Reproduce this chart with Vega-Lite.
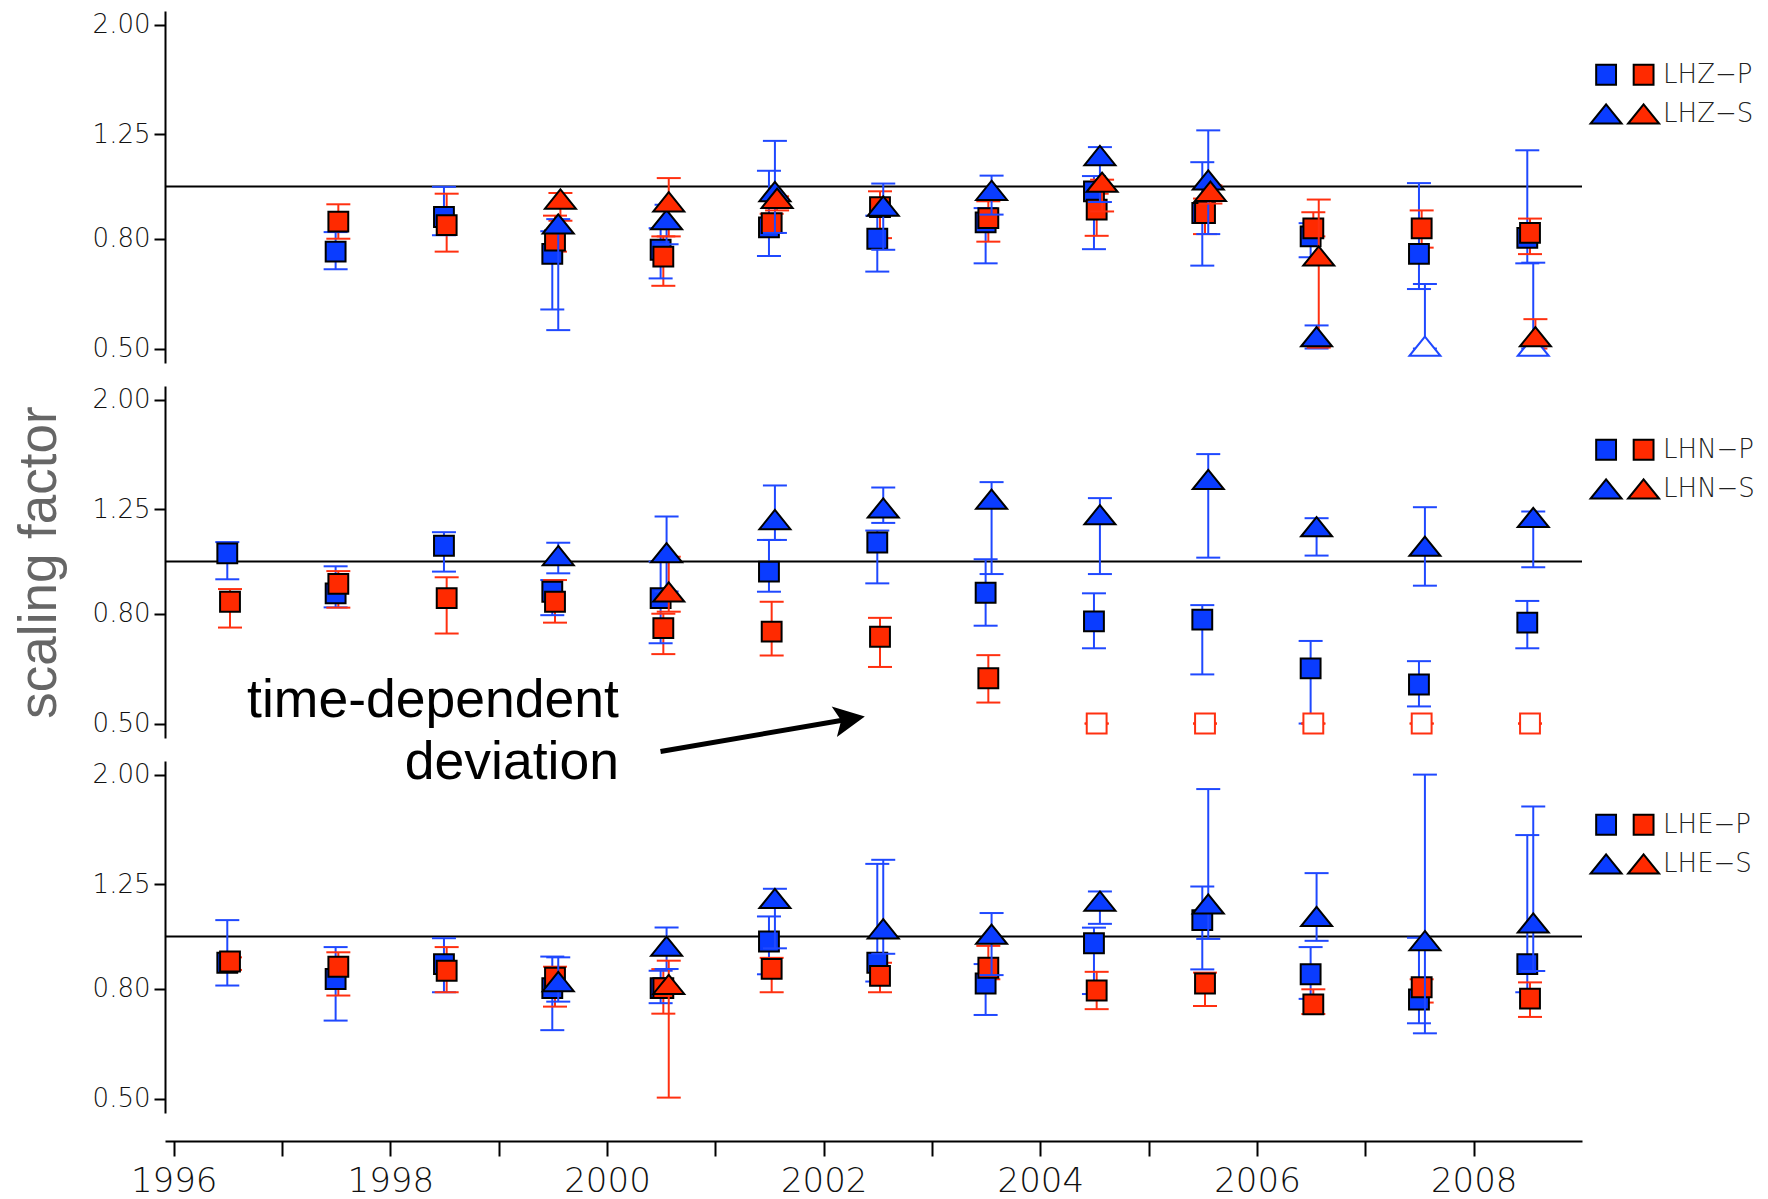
{
  "$schema": "https://vega.github.io/schema/vega-lite/v6.json",
  "background": "white",
  "padding": {"left": 13, "top": 11, "right": 5, "bottom": 2},
  "autosize": {"type": "pad"},
  "config": {
    "view": {"stroke": null},
    "axis": {
      "domainColor": "black", "domainWidth": 2, "tickColor": "black", "tickWidth": 2,
      "tickSize": 11, "labelPadding": 4, "labelFont": "DejaVu Sans", "labelFontSize": 26,
      "labelFontWeight": 200, "labelColor": "#111", "grid": false
    },
    "legend": {
      "padding": 0, "symbolSize": 961, "symbolStrokeColor": "black", "symbolStrokeWidth": 2,
      "labelFont": "DejaVu Sans", "labelFontSize": 26, "labelFontWeight": 200, "labelColor": "#222",
      "labelOffset": 3, "columnPadding": -1.5, "rowPadding": 8.5
    }
  },
  "datasets": {
    "pts": [
      {"c":"LHZ","s":"BP","t":1997.495,"v":0.757,"lo":0.702,"hi":0.823},
      {"c":"LHZ","s":"RP","t":1997.52,"v":0.861,"lo":0.80,"hi":0.927},
      {"c":"LHZ","s":"BP","t":1998.495,"v":0.878,"lo":0.812,"hi":0.999},
      {"c":"LHZ","s":"RP","t":1998.52,"v":0.848,"lo":0.757,"hi":0.97},
      {"c":"LHZ","s":"BP","t":1999.495,"v":0.75,"lo":0.591,"hi":0.826},
      {"c":"LHZ","s":"RP","t":1999.52,"v":0.794,"lo":0.757,"hi":0.883},
      {"c":"LHZ","s":"BS","t":1999.55,"v":0.852,"lo":0.541,"hi":0.87},
      {"c":"LHZ","s":"RS","t":1999.57,"v":0.948,"lo":0.864,"hi":0.973},
      {"c":"LHZ","s":"BP","t":2000.495,"v":0.763,"lo":0.675,"hi":0.837},
      {"c":"LHZ","s":"RP","t":2000.52,"v":0.741,"lo":0.654,"hi":0.808},
      {"c":"LHZ","s":"BS","t":2000.55,"v":0.868,"lo":0.781,"hi":0.925},
      {"c":"LHZ","s":"RS","t":2000.57,"v":0.937,"lo":0.808,"hi":1.037},
      {"c":"LHZ","s":"BP","t":2001.495,"v":0.84,"lo":0.743,"hi":1.07},
      {"c":"LHZ","s":"RP","t":2001.52,"v":0.855,"lo":0.82,"hi":0.89},
      {"c":"LHZ","s":"BS","t":2001.55,"v":0.979,"lo":0.82,"hi":1.216},
      {"c":"LHZ","s":"RS","t":2001.57,"v":0.951,"lo":0.903,"hi":0.959},
      {"c":"LHZ","s":"BP","t":2002.495,"v":0.80,"lo":0.695,"hi":0.883},
      {"c":"LHZ","s":"RP","t":2002.52,"v":0.916,"lo":0.802,"hi":0.98},
      {"c":"LHZ","s":"BS","t":2002.55,"v":0.92,"lo":0.763,"hi":1.013},
      {"c":"LHZ","s":"BP","t":2003.495,"v":0.858,"lo":0.72,"hi":0.912},
      {"c":"LHZ","s":"RP","t":2003.52,"v":0.874,"lo":0.79,"hi":0.939},
      {"c":"LHZ","s":"BS","t":2003.55,"v":0.984,"lo":0.887,"hi":1.048},
      {"c":"LHZ","s":"BP","t":2004.495,"v":0.98,"lo":0.765,"hi":1.046},
      {"c":"LHZ","s":"RP","t":2004.52,"v":0.906,"lo":0.81,"hi":0.97},
      {"c":"LHZ","s":"BS","t":2004.55,"v":1.142,"lo":0.936,"hi":1.184},
      {"c":"LHZ","s":"RS","t":2004.57,"v":1.019,"lo":0.899,"hi":1.03},
      {"c":"LHZ","s":"BP","t":2005.495,"v":0.893,"lo":0.713,"hi":1.11},
      {"c":"LHZ","s":"RP","t":2005.52,"v":0.893,"lo":0.816,"hi":0.95},
      {"c":"LHZ","s":"BS","t":2005.55,"v":1.029,"lo":0.816,"hi":1.272},
      {"c":"LHZ","s":"RS","t":2005.57,"v":0.98,"lo":0.93,"hi":1.005},
      {"c":"LHZ","s":"BP","t":2006.495,"v":0.808,"lo":0.739,"hi":0.855},
      {"c":"LHZ","s":"RP","t":2006.52,"v":0.836,"lo":0.808,"hi":0.896},
      {"c":"LHZ","s":"BS","t":2006.55,"v":0.526,"lo":0.50,"hi":0.552},
      {"c":"LHZ","s":"RS","t":2006.57,"v":0.743,"lo":0.502,"hi":0.946},
      {"c":"LHZ","s":"BP","t":2007.495,"v":0.75,"lo":0.645,"hi":1.015},
      {"c":"LHZ","s":"RP","t":2007.52,"v":0.836,"lo":0.77,"hi":0.903},
      {"c":"LHZ","s":"BS","t":2007.55,"v":0.505,"lo":0.50,"hi":0.659,"low":true},
      {"c":"LHZ","s":"BP","t":2008.495,"v":0.803,"lo":0.72,"hi":1.168},
      {"c":"LHZ","s":"RP","t":2008.52,"v":0.82,"lo":0.749,"hi":0.872},
      {"c":"LHZ","s":"BS","t":2008.55,"v":0.505,"lo":0.50,"hi":0.722,"low":true},
      {"c":"LHZ","s":"RS","t":2008.57,"v":0.526,"lo":0.50,"hi":0.567},

      {"c":"LHN","s":"BP","t":1996.495,"v":1.036,"lo":0.927,"hi":1.087},
      {"c":"LHN","s":"RP","t":1996.52,"v":0.842,"lo":0.754,"hi":0.889},
      {"c":"LHN","s":"BP","t":1997.495,"v":0.873,"lo":0.822,"hi":0.98},
      {"c":"LHN","s":"RP","t":1997.52,"v":0.909,"lo":0.821,"hi":0.96},
      {"c":"LHN","s":"BP","t":1998.495,"v":1.07,"lo":0.958,"hi":1.134},
      {"c":"LHN","s":"RP","t":1998.52,"v":0.855,"lo":0.735,"hi":0.935},
      {"c":"LHN","s":"BP","t":1999.495,"v":0.879,"lo":0.795,"hi":0.924},
      {"c":"LHN","s":"RP","t":1999.52,"v":0.842,"lo":0.77,"hi":0.924},
      {"c":"LHN","s":"BS","t":1999.55,"v":1.026,"lo":0.951,"hi":1.084},
      {"c":"LHN","s":"BP","t":2000.495,"v":0.855,"lo":0.705,"hi":1.0},
      {"c":"LHN","s":"RP","t":2000.52,"v":0.752,"lo":0.673,"hi":0.80},
      {"c":"LHN","s":"BS","t":2000.55,"v":1.039,"lo":0.88,"hi":1.213},
      {"c":"LHN","s":"RS","t":2000.57,"v":0.878,"lo":0.807,"hi":1.021},
      {"c":"LHN","s":"BP","t":2001.495,"v":0.958,"lo":0.879,"hi":1.097},
      {"c":"LHN","s":"RP","t":2001.52,"v":0.741,"lo":0.669,"hi":0.842},
      {"c":"LHN","s":"BS","t":2001.55,"v":1.197,"lo":1.097,"hi":1.385},
      {"c":"LHN","s":"BP","t":2002.495,"v":1.085,"lo":0.911,"hi":1.142},
      {"c":"LHN","s":"RP","t":2002.52,"v":0.725,"lo":0.637,"hi":0.786},
      {"c":"LHN","s":"BS","t":2002.55,"v":1.258,"lo":1.18,"hi":1.373},
      {"c":"LHN","s":"BP","t":2003.495,"v":0.875,"lo":0.76,"hi":1.01},
      {"c":"LHN","s":"RP","t":2003.52,"v":0.607,"lo":0.547,"hi":0.67},
      {"c":"LHN","s":"BS","t":2003.55,"v":1.306,"lo":0.948,"hi":1.405},
      {"c":"LHN","s":"BP","t":2004.495,"v":0.774,"lo":0.69,"hi":0.873},
      {"c":"LHN","s":"RP","t":2004.52,"v":0.5,"lo":0.5,"hi":0.5,"low":true},
      {"c":"LHN","s":"BS","t":2004.55,"v":1.222,"lo":0.948,"hi":1.312},
      {"c":"LHN","s":"BP","t":2005.495,"v":0.78,"lo":0.617,"hi":0.83},
      {"c":"LHN","s":"RP","t":2005.52,"v":0.5,"lo":0.5,"hi":0.5,"low":true},
      {"c":"LHN","s":"BS","t":2005.55,"v":1.421,"lo":1.017,"hi":1.584},
      {"c":"LHN","s":"BP","t":2006.495,"v":0.633,"lo":0.5,"hi":0.712},
      {"c":"LHN","s":"RP","t":2006.52,"v":0.5,"lo":0.5,"hi":0.5,"low":true},
      {"c":"LHN","s":"BS","t":2006.55,"v":1.161,"lo":1.026,"hi":1.204},
      {"c":"LHN","s":"BP","t":2007.495,"v":0.591,"lo":0.538,"hi":0.653},
      {"c":"LHN","s":"RP","t":2007.52,"v":0.5,"lo":0.5,"hi":0.5,"low":true},
      {"c":"LHN","s":"BS","t":2007.55,"v":1.068,"lo":0.902,"hi":1.262},
      {"c":"LHN","s":"BP","t":2008.495,"v":0.77,"lo":0.69,"hi":0.845},
      {"c":"LHN","s":"RP","t":2008.52,"v":0.5,"lo":0.5,"hi":0.5,"low":true},
      {"c":"LHN","s":"BS","t":2008.55,"v":1.208,"lo":0.976,"hi":1.239},

      {"c":"LHE","s":"BP","t":1996.495,"v":0.894,"lo":0.811,"hi":1.073},
      {"c":"LHE","s":"RP","t":1996.52,"v":0.899,"lo":0.867,"hi":0.915},
      {"c":"LHE","s":"BP","t":1997.495,"v":0.834,"lo":0.698,"hi":0.956},
      {"c":"LHE","s":"RP","t":1997.52,"v":0.879,"lo":0.777,"hi":0.935},
      {"c":"LHE","s":"BP","t":1998.495,"v":0.889,"lo":0.788,"hi":0.993},
      {"c":"LHE","s":"RP","t":1998.52,"v":0.864,"lo":0.788,"hi":0.956},
      {"c":"LHE","s":"BP","t":1999.495,"v":0.802,"lo":0.67,"hi":0.918},
      {"c":"LHE","s":"RP","t":1999.52,"v":0.839,"lo":0.741,"hi":0.879},
      {"c":"LHE","s":"BS","t":1999.55,"v":0.825,"lo":0.757,"hi":0.915},
      {"c":"LHE","s":"BP","t":2000.495,"v":0.802,"lo":0.752,"hi":0.864},
      {"c":"LHE","s":"RP","t":2000.52,"v":0.802,"lo":0.719,"hi":0.87},
      {"c":"LHE","s":"BS","t":2000.55,"v":0.96,"lo":0.87,"hi":1.04},
      {"c":"LHE","s":"RS","t":2000.57,"v":0.815,"lo":0.502,"hi":0.902},
      {"c":"LHE","s":"BP","t":2001.495,"v":0.979,"lo":0.851,"hi":1.09},
      {"c":"LHE","s":"RP","t":2001.52,"v":0.871,"lo":0.788,"hi":0.913},
      {"c":"LHE","s":"BS","t":2001.55,"v":1.177,"lo":0.951,"hi":1.227},
      {"c":"LHE","s":"BP","t":2002.495,"v":0.894,"lo":0.825,"hi":1.365},
      {"c":"LHE","s":"RP","t":2002.52,"v":0.845,"lo":0.788,"hi":0.894},
      {"c":"LHE","s":"BS","t":2002.55,"v":1.034,"lo":0.929,"hi":1.389},
      {"c":"LHE","s":"BP","t":2003.495,"v":0.818,"lo":0.715,"hi":0.889},
      {"c":"LHE","s":"RP","t":2003.52,"v":0.875,"lo":0.833,"hi":0.961},
      {"c":"LHE","s":"BS","t":2003.55,"v":1.01,"lo":0.848,"hi":1.106},
      {"c":"LHE","s":"BP","t":2004.495,"v":0.972,"lo":0.782,"hi":1.039},
      {"c":"LHE","s":"RP","t":2004.52,"v":0.794,"lo":0.733,"hi":0.86},
      {"c":"LHE","s":"BS","t":2004.55,"v":1.164,"lo":1.056,"hi":1.213},
      {"c":"LHE","s":"BP","t":2005.495,"v":1.073,"lo":0.869,"hi":1.239},
      {"c":"LHE","s":"RP","t":2005.52,"v":0.818,"lo":0.743,"hi":0.857},
      {"c":"LHE","s":"BS","t":2005.55,"v":1.15,"lo":0.99,"hi":1.88},
      {"c":"LHE","s":"BP","t":2006.495,"v":0.851,"lo":0.766,"hi":0.956},
      {"c":"LHE","s":"RP","t":2006.52,"v":0.748,"lo":0.718,"hi":0.798},
      {"c":"LHE","s":"BS","t":2006.55,"v":1.09,"lo":0.982,"hi":1.312},
      {"c":"LHE","s":"BP","t":2007.495,"v":0.764,"lo":0.69,"hi":0.995},
      {"c":"LHE","s":"RP","t":2007.52,"v":0.805,"lo":0.754,"hi":0.833},
      {"c":"LHE","s":"BS","t":2007.55,"v":0.983,"lo":0.661,"hi":2.0},
      {"c":"LHE","s":"BP","t":2008.495,"v":0.889,"lo":0.788,"hi":1.544},
      {"c":"LHE","s":"RP","t":2008.52,"v":0.767,"lo":0.709,"hi":0.822},
      {"c":"LHE","s":"BS","t":2008.55,"v":1.06,"lo":0.863,"hi":1.745}
    ]
  },
  "spacing": 23,
  "bounds": "flush",
  "resolve": {
    "scale": {"fill": "independent", "shape": "independent", "stroke": "independent", "color": "independent"},
    "legend": {"fill": "independent", "shape": "independent", "stroke": "independent"}
  },
  "vconcat": [
    {
      "width": 1417, "height": 352,
      "data": {"name": "pts"},
      "layer": [
        {"data": {"values": [{"ref": 1}]}, "mark": {"type": "rule", "color": "black", "strokeWidth": 2},
         "encoding": {"y": {"field": "ref", "type": "quantitative", "scale": {"type": "log", "domain": [0.47, 2.12], "nice": false}, "axis": {"values": [0.5, 0.8, 1.25, 2], "format": ".2f", "title": null}}}},
        {"transform": [{"filter": "datum.c == 'LHZ' && (datum.s == 'BP' || datum.s == 'RP')"}],
         "mark": {"type": "rule", "strokeWidth": 2},
         "encoding": {"x": {"field": "t", "type": "quantitative", "scale": {"domain": [1995.92, 2009], "nice": false, "zero": false}, "axis": null},
          "y": {"field": "lo", "type": "quantitative"},
          "y2": {"field": "hi"},
          "color": {"field": "s", "type": "nominal", "scale": {"domain": ["RP", "BP", "RS", "BS"], "range": ["#ff3010", "#1f48ff", "#ff3010", "#1f48ff"]}, "legend": null}}},
        {"transform": [{"filter": "datum.c == 'LHZ' && (datum.s == 'BP' || datum.s == 'RP')"}],
         "mark": {"type": "tick", "orient": "horizontal", "size": 24, "thickness": 2, "opacity": 1},
         "encoding": {"x": {"field": "t", "type": "quantitative"}, "y": {"field": "lo", "type": "quantitative"},
          "color": {"field": "s", "type": "nominal", "legend": null}}},
        {"transform": [{"filter": "datum.c == 'LHZ' && (datum.s == 'BP' || datum.s == 'RP')"}],
         "mark": {"type": "tick", "orient": "horizontal", "size": 24, "thickness": 2, "opacity": 1},
         "encoding": {"x": {"field": "t", "type": "quantitative"}, "y": {"field": "hi", "type": "quantitative"},
          "color": {"field": "s", "type": "nominal", "legend": null}}},
        {"transform": [{"filter": "datum.c == 'LHZ' && (datum.s == 'BP' || datum.s == 'RP') && !datum.low"}],
         "mark": {"type": "point", "filled": true, "size": 961, "strokeWidth": 2, "opacity": 1},
         "encoding": {"x": {"field": "t", "type": "quantitative"}, "y": {"field": "v", "type": "quantitative"},
          "fill": {"field": "s", "type": "nominal", "scale": {"domain": ["BP", "RP", "BS", "RS"], "range": ["#0a3cff", "#ff2a00", "#0a3cff", "#ff2a00"]},
            "legend": {"orient": "none", "legendX": 1424.6, "legendY": 47, "direction": "horizontal", "title": null, "columns": 2, "labelExpr": "datum.value == 'RP' ? 'LHZ−P' : datum.value == 'RS' ? 'LHZ−S' : ''"}},
          "stroke": {"field": "s", "type": "nominal", "scale": {"domain": ["BP", "RP", "BS", "RS"], "range": ["black", "black", "black", "black"]},
            "legend": {"orient": "none", "legendX": 1424.6, "legendY": 47, "direction": "horizontal", "title": null, "columns": 2, "labelExpr": "datum.value == 'RP' ? 'LHZ−P' : datum.value == 'RS' ? 'LHZ−S' : ''"}},
          "shape": {"field": "s", "type": "nominal", "scale": {"domain": ["BP", "RP", "BS", "RS"], "range": ["M-0.64,-0.64H0.64V0.64H-0.64Z", "M-0.64,-0.64H0.64V0.64H-0.64Z", "M0,-0.62L1,0.62L-1,0.62Z", "M0,-0.62L1,0.62L-1,0.62Z"]},
            "legend": {"orient": "none", "legendX": 1424.6, "legendY": 47, "direction": "horizontal", "title": null, "columns": 2, "labelExpr": "datum.value == 'RP' ? 'LHZ−P' : datum.value == 'RS' ? 'LHZ−S' : ''"}}}},
        {"transform": [{"filter": "datum.c == 'LHZ' && (datum.s == 'BS' || datum.s == 'RS')"}],
         "mark": {"type": "rule", "strokeWidth": 2},
         "encoding": {"x": {"field": "t", "type": "quantitative"}, "y": {"field": "lo", "type": "quantitative"}, "y2": {"field": "hi"},
          "color": {"field": "s", "type": "nominal", "legend": null}}},
        {"transform": [{"filter": "datum.c == 'LHZ' && (datum.s == 'BS' || datum.s == 'RS')"}],
         "mark": {"type": "tick", "orient": "horizontal", "size": 24, "thickness": 2, "opacity": 1},
         "encoding": {"x": {"field": "t", "type": "quantitative"}, "y": {"field": "lo", "type": "quantitative"},
          "color": {"field": "s", "type": "nominal", "legend": null}}},
        {"transform": [{"filter": "datum.c == 'LHZ' && (datum.s == 'BS' || datum.s == 'RS')"}],
         "mark": {"type": "tick", "orient": "horizontal", "size": 24, "thickness": 2, "opacity": 1},
         "encoding": {"x": {"field": "t", "type": "quantitative"}, "y": {"field": "hi", "type": "quantitative"},
          "color": {"field": "s", "type": "nominal", "legend": null}}},
        {"transform": [{"filter": "datum.c == 'LHZ' && datum.s == 'BS' && datum.low"}],
         "mark": {"type": "point", "shape": "M0,-0.62L1,0.62L-1,0.62Z", "size": 961, "filled": true, "fill": "white", "stroke": "#1f48ff", "strokeWidth": 2, "opacity": 1},
         "encoding": {"x": {"field": "t", "type": "quantitative"}, "y": {"field": "v", "type": "quantitative"}}},
        {"transform": [{"filter": "datum.c == 'LHZ' && (datum.s == 'BS' || datum.s == 'RS') && !datum.low"}],
         "mark": {"type": "point", "filled": true, "size": 961, "strokeWidth": 2, "opacity": 1},
         "encoding": {"x": {"field": "t", "type": "quantitative"}, "y": {"field": "v", "type": "quantitative"},
          "fill": {"field": "s", "type": "nominal"},
          "stroke": {"field": "s", "type": "nominal"},
          "shape": {"field": "s", "type": "nominal"}}}
      ]
    },
    {
      "width": 1417, "height": 352,
      "data": {"name": "pts"},
      "layer": [
        {"data": {"values": [{"ref": 1}]}, "mark": {"type": "rule", "color": "black", "strokeWidth": 2},
         "encoding": {"y": {"field": "ref", "type": "quantitative", "scale": {"type": "log", "domain": [0.47, 2.12], "nice": false}, "axis": {"values": [0.5, 0.8, 1.25, 2], "format": ".2f", "title": "scaling factor", "titleFont": "Liberation Sans", "titleFontSize": 53, "titleFontWeight": "normal", "titleColor": "#666", "titlePadding": 26}}}},
        {"transform": [{"filter": "datum.c == 'LHN' && (datum.s == 'BP' || datum.s == 'RP')"}],
         "mark": {"type": "rule", "strokeWidth": 2},
         "encoding": {"x": {"field": "t", "type": "quantitative", "scale": {"domain": [1995.92, 2009], "nice": false, "zero": false}, "axis": null},
          "y": {"field": "lo", "type": "quantitative"},
          "y2": {"field": "hi"},
          "color": {"field": "s", "type": "nominal", "scale": {"domain": ["RP", "BP", "RS", "BS"], "range": ["#ff3010", "#1f48ff", "#ff3010", "#1f48ff"]}, "legend": null}}},
        {"transform": [{"filter": "datum.c == 'LHN' && (datum.s == 'BP' || datum.s == 'RP')"}],
         "mark": {"type": "tick", "orient": "horizontal", "size": 24, "thickness": 2, "opacity": 1},
         "encoding": {"x": {"field": "t", "type": "quantitative"}, "y": {"field": "lo", "type": "quantitative"},
          "color": {"field": "s", "type": "nominal", "legend": null}}},
        {"transform": [{"filter": "datum.c == 'LHN' && (datum.s == 'BP' || datum.s == 'RP')"}],
         "mark": {"type": "tick", "orient": "horizontal", "size": 24, "thickness": 2, "opacity": 1},
         "encoding": {"x": {"field": "t", "type": "quantitative"}, "y": {"field": "hi", "type": "quantitative"},
          "color": {"field": "s", "type": "nominal", "legend": null}}},
        {"transform": [{"filter": "datum.c == 'LHN' && datum.s == 'RP' && datum.low"}],
         "mark": {"type": "point", "shape": "M-0.64,-0.64H0.64V0.64H-0.64Z", "size": 961, "filled": true, "fill": "white", "stroke": "#ff3010", "strokeWidth": 2, "opacity": 1},
         "encoding": {"x": {"field": "t", "type": "quantitative"}, "y": {"field": "v", "type": "quantitative"}}},
        {"transform": [{"filter": "datum.c == 'LHN' && (datum.s == 'BP' || datum.s == 'RP') && !datum.low"}],
         "mark": {"type": "point", "filled": true, "size": 961, "strokeWidth": 2, "opacity": 1},
         "encoding": {"x": {"field": "t", "type": "quantitative"}, "y": {"field": "v", "type": "quantitative"},
          "fill": {"field": "s", "type": "nominal", "scale": {"domain": ["BP", "RP", "BS", "RS"], "range": ["#0a3cff", "#ff2a00", "#0a3cff", "#ff2a00"]},
            "legend": {"orient": "none", "legendX": 1424.6, "legendY": 47, "direction": "horizontal", "title": null, "columns": 2, "labelExpr": "datum.value == 'RP' ? 'LHN−P' : datum.value == 'RS' ? 'LHN−S' : ''"}},
          "stroke": {"field": "s", "type": "nominal", "scale": {"domain": ["BP", "RP", "BS", "RS"], "range": ["black", "black", "black", "black"]},
            "legend": {"orient": "none", "legendX": 1424.6, "legendY": 47, "direction": "horizontal", "title": null, "columns": 2, "labelExpr": "datum.value == 'RP' ? 'LHN−P' : datum.value == 'RS' ? 'LHN−S' : ''"}},
          "shape": {"field": "s", "type": "nominal", "scale": {"domain": ["BP", "RP", "BS", "RS"], "range": ["M-0.64,-0.64H0.64V0.64H-0.64Z", "M-0.64,-0.64H0.64V0.64H-0.64Z", "M0,-0.62L1,0.62L-1,0.62Z", "M0,-0.62L1,0.62L-1,0.62Z"]},
            "legend": {"orient": "none", "legendX": 1424.6, "legendY": 47, "direction": "horizontal", "title": null, "columns": 2, "labelExpr": "datum.value == 'RP' ? 'LHN−P' : datum.value == 'RS' ? 'LHN−S' : ''"}}}},
        {"transform": [{"filter": "datum.c == 'LHN' && (datum.s == 'BS' || datum.s == 'RS')"}],
         "mark": {"type": "rule", "strokeWidth": 2},
         "encoding": {"x": {"field": "t", "type": "quantitative"}, "y": {"field": "lo", "type": "quantitative"}, "y2": {"field": "hi"},
          "color": {"field": "s", "type": "nominal", "legend": null}}},
        {"transform": [{"filter": "datum.c == 'LHN' && (datum.s == 'BS' || datum.s == 'RS')"}],
         "mark": {"type": "tick", "orient": "horizontal", "size": 24, "thickness": 2, "opacity": 1},
         "encoding": {"x": {"field": "t", "type": "quantitative"}, "y": {"field": "lo", "type": "quantitative"},
          "color": {"field": "s", "type": "nominal", "legend": null}}},
        {"transform": [{"filter": "datum.c == 'LHN' && (datum.s == 'BS' || datum.s == 'RS')"}],
         "mark": {"type": "tick", "orient": "horizontal", "size": 24, "thickness": 2, "opacity": 1},
         "encoding": {"x": {"field": "t", "type": "quantitative"}, "y": {"field": "hi", "type": "quantitative"},
          "color": {"field": "s", "type": "nominal", "legend": null}}},
        {"transform": [{"filter": "datum.c == 'LHN' && (datum.s == 'BS' || datum.s == 'RS') && !datum.low"}],
         "mark": {"type": "point", "filled": true, "size": 961, "strokeWidth": 2, "opacity": 1},
         "encoding": {"x": {"field": "t", "type": "quantitative"}, "y": {"field": "v", "type": "quantitative"},
          "fill": {"field": "s", "type": "nominal"},
          "stroke": {"field": "s", "type": "nominal"},
          "shape": {"field": "s", "type": "nominal"}}},
        {"data": {"values": [{"note": "time-dependent deviation"}]},
         "mark": {"type": "text", "text": ["time-dependent", "deviation"], "align": "right", "baseline": "alphabetic", "font": "Liberation Sans", "fontSize": 53.5, "lineHeight": 62, "color": "black"},
         "encoding": {"x": {"datum": 2000.11, "type": "quantitative"}, "y": {"datum": 0.515, "type": "quantitative"}}},
        {"data": {"values": [{"note": "arrow"}]},
         "mark": {"type": "rule", "strokeWidth": 5, "color": "black"},
         "encoding": {"x": {"datum": 2000.494, "type": "quantitative"}, "y": {"datum": 0.4437, "type": "quantitative"},
          "x2": {"datum": 2002.24}, "y2": {"datum": 0.5097}}},
        {"data": {"values": [{"note": "arrow head"}]},
         "mark": {"type": "point", "shape": "M1,0L-1,-1L-0.55,0L-1,1Z", "size": 961, "filled": true, "color": "black", "opacity": 1, "angle": 350.3},
         "encoding": {"x": {"datum": 2002.239, "type": "quantitative"}, "y": {"datum": 0.5097, "type": "quantitative"}}}
      ]
    },
    {
      "width": 1417, "height": 352,
      "data": {"name": "pts"},
      "layer": [
        {"data": {"values": [{"ref": 1}]}, "mark": {"type": "rule", "color": "black", "strokeWidth": 2},
         "encoding": {"y": {"field": "ref", "type": "quantitative", "scale": {"type": "log", "domain": [0.47, 2.12], "nice": false}, "axis": {"values": [0.5, 0.8, 1.25, 2], "format": ".2f", "title": null}}}},
        {"transform": [{"filter": "datum.c == 'LHE' && (datum.s == 'BP' || datum.s == 'RP')"}],
         "mark": {"type": "rule", "strokeWidth": 2},
         "encoding": {"x": {"field": "t", "type": "quantitative", "scale": {"domain": [1995.92, 2009], "nice": false, "zero": false},
            "axis": {"values": [1996, 1997, 1998, 1999, 2000, 2001, 2002, 2003, 2004, 2005, 2006, 2007, 2008], "labelExpr": "datum.value % 2 == 0 ? '' + datum.value : ''", "labelOverlap": false, "labelFlush": false, "offset": 28, "tickSize": 15, "labelFontSize": 34, "labelPadding": 8, "labelColor": "#111", "title": null}},
          "y": {"field": "lo", "type": "quantitative"},
          "y2": {"field": "hi"},
          "color": {"field": "s", "type": "nominal", "scale": {"domain": ["RP", "BP", "RS", "BS"], "range": ["#ff3010", "#1f48ff", "#ff3010", "#1f48ff"]}, "legend": null}}},
        {"transform": [{"filter": "datum.c == 'LHE' && (datum.s == 'BP' || datum.s == 'RP')"}],
         "mark": {"type": "tick", "orient": "horizontal", "size": 24, "thickness": 2, "opacity": 1},
         "encoding": {"x": {"field": "t", "type": "quantitative"}, "y": {"field": "lo", "type": "quantitative"},
          "color": {"field": "s", "type": "nominal", "legend": null}}},
        {"transform": [{"filter": "datum.c == 'LHE' && (datum.s == 'BP' || datum.s == 'RP')"}],
         "mark": {"type": "tick", "orient": "horizontal", "size": 24, "thickness": 2, "opacity": 1},
         "encoding": {"x": {"field": "t", "type": "quantitative"}, "y": {"field": "hi", "type": "quantitative"},
          "color": {"field": "s", "type": "nominal", "legend": null}}},
        {"transform": [{"filter": "datum.c == 'LHE' && (datum.s == 'BP' || datum.s == 'RP') && !datum.low"}],
         "mark": {"type": "point", "filled": true, "size": 961, "strokeWidth": 2, "opacity": 1},
         "encoding": {"x": {"field": "t", "type": "quantitative"}, "y": {"field": "v", "type": "quantitative"},
          "fill": {"field": "s", "type": "nominal", "scale": {"domain": ["BP", "RP", "BS", "RS"], "range": ["#0a3cff", "#ff2a00", "#0a3cff", "#ff2a00"]},
            "legend": {"orient": "none", "legendX": 1424.6, "legendY": 47, "direction": "horizontal", "title": null, "columns": 2, "labelExpr": "datum.value == 'RP' ? 'LHE−P' : datum.value == 'RS' ? 'LHE−S' : ''"}},
          "stroke": {"field": "s", "type": "nominal", "scale": {"domain": ["BP", "RP", "BS", "RS"], "range": ["black", "black", "black", "black"]},
            "legend": {"orient": "none", "legendX": 1424.6, "legendY": 47, "direction": "horizontal", "title": null, "columns": 2, "labelExpr": "datum.value == 'RP' ? 'LHE−P' : datum.value == 'RS' ? 'LHE−S' : ''"}},
          "shape": {"field": "s", "type": "nominal", "scale": {"domain": ["BP", "RP", "BS", "RS"], "range": ["M-0.64,-0.64H0.64V0.64H-0.64Z", "M-0.64,-0.64H0.64V0.64H-0.64Z", "M0,-0.62L1,0.62L-1,0.62Z", "M0,-0.62L1,0.62L-1,0.62Z"]},
            "legend": {"orient": "none", "legendX": 1424.6, "legendY": 47, "direction": "horizontal", "title": null, "columns": 2, "labelExpr": "datum.value == 'RP' ? 'LHE−P' : datum.value == 'RS' ? 'LHE−S' : ''"}}}},
        {"transform": [{"filter": "datum.c == 'LHE' && (datum.s == 'BS' || datum.s == 'RS')"}],
         "mark": {"type": "rule", "strokeWidth": 2},
         "encoding": {"x": {"field": "t", "type": "quantitative"}, "y": {"field": "lo", "type": "quantitative"}, "y2": {"field": "hi"},
          "color": {"field": "s", "type": "nominal", "legend": null}}},
        {"transform": [{"filter": "datum.c == 'LHE' && (datum.s == 'BS' || datum.s == 'RS')"}],
         "mark": {"type": "tick", "orient": "horizontal", "size": 24, "thickness": 2, "opacity": 1},
         "encoding": {"x": {"field": "t", "type": "quantitative"}, "y": {"field": "lo", "type": "quantitative"},
          "color": {"field": "s", "type": "nominal", "legend": null}}},
        {"transform": [{"filter": "datum.c == 'LHE' && (datum.s == 'BS' || datum.s == 'RS')"}],
         "mark": {"type": "tick", "orient": "horizontal", "size": 24, "thickness": 2, "opacity": 1},
         "encoding": {"x": {"field": "t", "type": "quantitative"}, "y": {"field": "hi", "type": "quantitative"},
          "color": {"field": "s", "type": "nominal", "legend": null}}},
        {"transform": [{"filter": "datum.c == 'LHE' && (datum.s == 'BS' || datum.s == 'RS') && !datum.low"}],
         "mark": {"type": "point", "filled": true, "size": 961, "strokeWidth": 2, "opacity": 1},
         "encoding": {"x": {"field": "t", "type": "quantitative"}, "y": {"field": "v", "type": "quantitative"},
          "fill": {"field": "s", "type": "nominal"},
          "stroke": {"field": "s", "type": "nominal"},
          "shape": {"field": "s", "type": "nominal"}}}
      ]
    }
  ]
}
